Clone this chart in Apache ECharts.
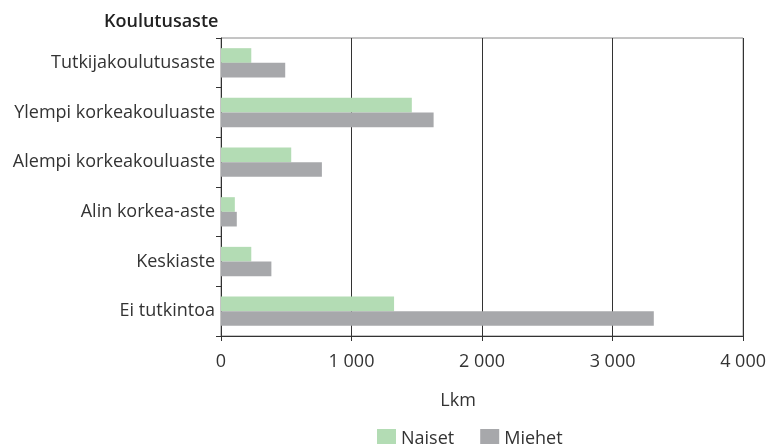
<!DOCTYPE html>
<html><head><meta charset="utf-8">
<script src="https://cdn.jsdelivr.net/npm/echarts@6/dist/echarts.min.js"></script>
<style>html,body{margin:0;padding:0;background:#fff}#c{width:769px;height:444px}</style>
</head><body><div id="c"></div>
<script>
const categories = ["Tutkijakoulutusaste","Ylempi korkeakouluaste","Alempi korkeakouluaste","Alin korkea-aste","Keskiaste","Ei tutkintoa"];
const naiset = [232, 1462, 538, 106, 232, 1326];
const miehet = [492, 1629, 773, 121, 386, 3316];
const xTicks = [0, 1000, 2000, 3000, 4000];
const FONT = "Open Sans";
const chart = echarts.init(document.getElementById('c'));
chart.setOption({
  animation:false,
  textStyle:{fontFamily:FONT},
  title:{text:"Koulutusaste", left:99, top:8, textStyle:{fontFamily:FONT,fontSize:18,fontWeight:600,color:"#222"}},
  grid:{left:221,right:21,top:38,bottom:108,show:true,borderColor:"#8a8a8a",borderWidth:1},
  legend:{top:424,left:372,itemWidth:19,itemHeight:19,itemGap:26,icon:'rect',
    textStyle:{fontFamily:FONT,fontSize:18,color:"#333"},data:["Naiset","Miehet"]},
  xAxis:{type:'value',min:xTicks[0],max:xTicks[xTicks.length-1],interval:1000,
    name:"Lkm",nameLocation:'middle',nameGap:56,
    nameTextStyle:{fontFamily:FONT,fontSize:18,color:"#333",padding:[0,48,0,0]},
    axisLine:{show:true,lineStyle:{color:"#333"}},axisTick:{show:true,length:5,lineStyle:{color:"#333"}},
    splitLine:{show:true,lineStyle:{color:"#333",width:1}},
    axisLabel:{fontFamily:FONT,fontSize:18,color:"#333",margin:17,formatter:v=>v===0?"0":String(v).replace(/\B(?=(\d{3})+(?!\d))/g,"\u00a0")}},
  yAxis:{type:'category',data:categories,inverse:true,
    axisLine:{show:true,lineStyle:{color:"#333"}},axisTick:{show:true,length:5,lineStyle:{color:"#333"}},
    axisLabel:{fontFamily:FONT,fontSize:18,color:"#333",margin:6}},
  series:[
    {name:"Naiset",type:'bar',data:naiset,itemStyle:{color:"#b3dcb4"},barGap:'0%',barCategoryGap:'41%'},
    {name:"Miehet",type:'bar',data:miehet,itemStyle:{color:"#a7a8ab"},barGap:'0%',barCategoryGap:'41%'}
  ]
});
</script></body></html>
